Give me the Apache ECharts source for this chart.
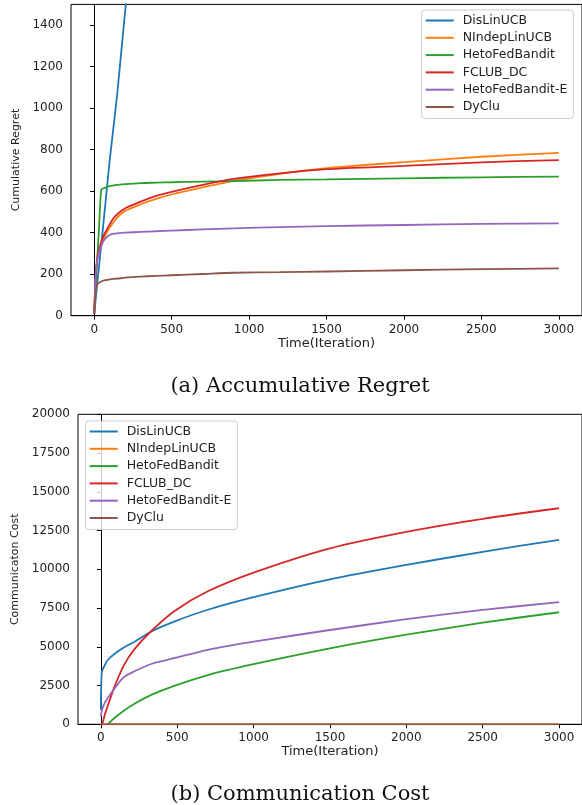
<!DOCTYPE html>
<html>
<head>
<meta charset="utf-8">
<script src="https://cdn.jsdelivr.net/npm/echarts@6/dist/echarts.min.js"></script>
<style>
  html, body { margin: 0; padding: 0; background: #fff; }
  #chart { width: 582px; height: 805px; }
</style>
</head>
<body>
<div id="chart"></div>
<script>
// series names / colours (matplotlib tab10)
const names = ['DisLinUCB', 'NIndepLinUCB', 'HetoFedBandit', 'FCLUB_DC', 'HetoFedBandit-E', 'DyClu'];
const colors = ['#1f77b4', '#ff7f0e', '#2ca02c', '#d62728', '#9467bd', '#8c564b'];

// tick labels
const xTicks = [0, 500, 1000, 1500, 2000, 2500, 3000];
const regretTicks = [0, 200, 400, 600, 800, 1000, 1200, 1400];
const costTicks = [0, 2500, 5000, 7500, 10000, 12500, 15000, 17500, 20000];

// (a) cumulative regret
const regretT = [0, 10, 20, 30, 45, 60, 80, 100, 120, 150, 200, 300, 400, 500, 700, 900, 1200, 1500, 2000, 2500, 3000];
const regretDisLin = [10, 85, 160, 230, 340, 450, 600, 750, 880, 1080, 1470, 2200, 2930, 3650, 5110, 6570, 8760, 10950, 14600, 18250, 21900];
const regretNIndep = [10, 190, 268, 305, 345, 372, 400, 425, 446, 474, 505, 537, 563, 584, 618, 650, 684, 711, 740, 766, 785];
const regretHeto = [12, 145, 280, 410, 606, 614, 620, 624, 627, 630, 634, 639, 641, 643, 646, 649, 654, 657, 662, 667, 670];
const regretFclub = [10, 200, 282, 318, 355, 385, 413, 440, 465, 490, 518, 550, 577, 597, 630, 659, 686, 706, 722, 739, 750];
const regretHetoE = [10, 205, 270, 300, 335, 360, 378, 389, 394, 397, 400, 404, 407, 410, 416, 421, 427, 432, 437, 442, 445];
const regretDyClu = [12, 120, 150, 158, 165, 169, 172, 175, 177, 179, 183, 188, 192, 195, 201, 207, 210, 213, 219, 224, 228];

// (b) communication cost
const costT = [0, 6, 25, 45, 90, 150, 220, 330, 480, 700, 1000, 1500, 2000, 2500, 3000];
const costDisLin = [923, 3394, 3800, 4148, 4550, 4950, 5330, 5990, 6630, 7390, 8200, 9350, 10280, 11130, 11900];
const costNIndep = [0, 0, 0, 0, 0, 0, 0, 0, 0, 0, 0, 0, 0, 0, 0];
const costHeto = [null, null, null, 0, 420, 880, 1330, 1900, 2480, 3180, 3880, 4900, 5780, 6560, 7230];
const costFclub = [0, 0, 600, 1200, 2450, 3800, 4850, 6020, 7300, 8580, 9790, 11355, 12420, 13260, 13940];
const costHetoE = [490, 900, 1380, 1700, 2330, 3040, 3420, 3890, 4265, 4805, 5330, 6084, 6780, 7380, 7880];
const costDyClu = [0, 0, 0, 0, 0, 0, 0, 0, 0, 0, 0, 0, 0, 0, 0];

const regretVals = [regretDisLin, regretNIndep, regretHeto, regretFclub, regretHetoE, regretDyClu];
const costVals = [costDisLin, costNIndep, costHeto, costFclub, costHetoE, costDyClu];

const pairs = (ts, vs) => ts.map((t, i) => [t, vs[i]]).filter(p => p[1] !== null);

const tickFont = { fontFamily: 'DejaVu Sans', fontSize: 12, color: '#222', formatter: v => String(v) };

function xAxis(gridIndex, gap) {
  return {
    type: 'value', gridIndex, min: -150, max: 3150,
    name: 'Time(Iteration)', nameLocation: 'middle', nameGap: gap,
    nameTextStyle: { fontFamily: 'DejaVu Sans', fontSize: 13, color: '#222' },
    axisLine: { show: true, lineStyle: { color: '#000', width: 1 } },
    axisTick: { show: true, length: 4, customValues: xTicks, lineStyle: { color: '#000' } },
    axisLabel: Object.assign({ margin: 8, customValues: xTicks }, tickFont),
    splitLine: { show: false }
  };
}

function yAxis(gridIndex, name, max, ticks, gap) {
  return {
    type: 'value', gridIndex, min: 0, max,
    name, nameLocation: 'middle', nameGap: gap,
    nameTextStyle: { fontFamily: 'DejaVu Sans', fontSize: 11, color: '#222' },
    axisLine: { show: true, lineStyle: { color: '#000', width: 1 } },
    axisTick: { show: true, length: 4, customValues: ticks, lineStyle: { color: '#000' } },
    axisLabel: Object.assign({ margin: 8, customValues: ticks }, tickFont),
    splitLine: { show: false }
  };
}

function legend(left, top) {
  return {
    orient: 'vertical', left, top,
    data: names,
    icon: 'rect',
    itemWidth: 28, itemHeight: 2, itemGap: 2.3,
    padding: [3, 6, 4, 4],
    borderColor: '#cccccc', borderWidth: 1, borderRadius: 3,
    backgroundColor: 'rgba(255,255,255,0.8)',
    textStyle: { fontFamily: 'DejaVu Sans', fontSize: 12.5, lineHeight: 15, color: '#222', padding: [0, 0, 0, 4] },
    selectedMode: false
  };
}

const series = [];
names.forEach((n, i) => {
  series.push({
    name: n, type: 'line', xAxisIndex: 0, yAxisIndex: 0,
    data: pairs(regretT, regretVals[i]),
    showSymbol: false, symbol: 'none', smooth: 0.25, clip: true,
    lineStyle: { color: colors[i], width: 1.8 }, itemStyle: { color: colors[i] }
  });
});
names.forEach((n, i) => {
  series.push({
    name: n, type: 'line', xAxisIndex: 1, yAxisIndex: 1,
    data: pairs(costT, costVals[i]),
    showSymbol: false, symbol: 'none', smooth: 0.25, clip: true,
    lineStyle: { color: colors[i], width: 1.8 }, itemStyle: { color: colors[i] }
  });
});

const chart = echarts.init(document.getElementById('chart'), null, { renderer: 'canvas' });
chart.setOption({
  animation: false,
  backgroundColor: '#fff',
  title: [
    { text: '(a) Accumulative Regret', left: 295, top: 371, textAlign: 'center',
      textStyle: { fontFamily: 'DejaVu Serif', fontSize: 21, fontWeight: 'normal', color: '#111' } },
    { text: '(b) Communication Cost', left: 295, top: 779, textAlign: 'center',
      textStyle: { fontFamily: 'DejaVu Serif', fontSize: 21, fontWeight: 'normal', color: '#111' } }
  ],
  grid: [
    { left: 71, top: 4.4, width: 514.8, height: 311.3, show: true, borderColor: '#000', borderWidth: 1, containLabel: false },
    { left: 78, top: 414.3, width: 508, height: 310, show: true, borderColor: '#000', borderWidth: 1, containLabel: false }
  ],
  xAxis: [xAxis(0, 21), xAxis(1, 21)],
  yAxis: [
    yAxis(0, 'Cumulative Regret', 1500, regretTicks, 47),
    yAxis(1, 'Communicaton Cost', 20000, costTicks, 54)
  ],
  legend: [legend(421.7, 10), legend(85.7, 421)],
  series
});
</script>
</body>
</html>
